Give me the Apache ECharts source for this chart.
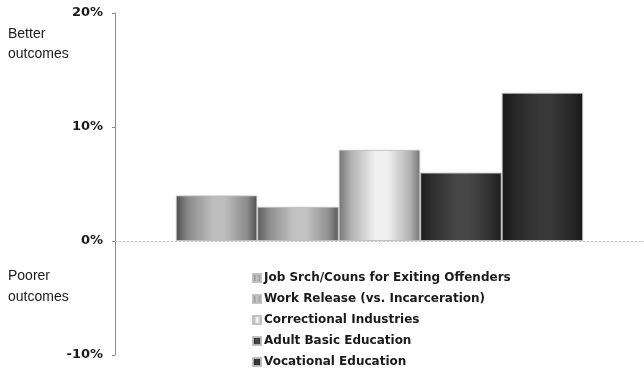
<!DOCTYPE html>
<html>
<head>
<meta charset="utf-8">
<script src="https://cdn.jsdelivr.net/npm/echarts@6/dist/echarts.min.js"></script>
<style>
html,body{margin:0;padding:0;background:#fff;}
#c{width:644px;height:374px;}
</style>
</head>
<body>
<div id="c"></div>
<script>
var categories = [''];
var seriesNames = [
  'Job Srch/Couns for Exiting Offenders',
  'Work Release (vs. Incarceration)',
  'Correctional Industries',
  'Adult Basic Education',
  'Vocational Education'
];
var seriesValues = [4, 3, 8, 6, 13];
var yTicks = [-10, 0, 10, 20];

var edgeColors = ['#4e4e4e', '#5a5a5a', '#747474', '#1c1c1c', '#181818'];
var midColors = ['#8a8a8a', '#8e8e8e', '#b0b0b0', '#2e2e2e', '#262626'];
var centerColors = ['#bdbdbd', '#c2c2c2', '#f0f0f0', '#474747', '#383838'];

function grad(i) {
  return new echarts.graphic.LinearGradient(0, 0, 1, 0, [
    {offset: 0, color: edgeColors[i]},
    {offset: 0.15, color: midColors[i]},
    {offset: 0.45, color: centerColors[i]},
    {offset: 0.6, color: centerColors[i]},
    {offset: 0.88, color: midColors[i]},
    {offset: 1, color: edgeColors[i]}
  ]);
}

var chart = echarts.init(document.getElementById('c'), null, {renderer: 'canvas'});
var series = seriesNames.map(function (n, i) {
  return {
    name: n,
    type: 'bar',
    data: [seriesValues[i]],
    barGap: '0%',
    barCategoryGap: '23%',
    itemStyle: {color: grad(i), borderColor: 'rgba(190,190,190,0.9)', borderWidth: 1},
    emphasis: {disabled: true}
  };
});

chart.setOption({
  animation: false,
  grid: {left: 115, right: 0, top: 13, bottom: 19, containLabel: false},
  xAxis: {
    type: 'category',
    data: categories,
    axisLine: {onZero: true, lineStyle: {color: '#c8c8c8', type: [2, 2], width: 1}},
    axisTick: {show: true, alignWithLabel: true, length: 4, lineStyle: {color: '#bbbbbb', type: [1, 1]}},
    axisLabel: {show: false}
  },
  yAxis: {
    type: 'value',
    min: yTicks[0],
    max: yTicks[yTicks.length - 1],
    interval: 10,
    axisLine: {show: true, lineStyle: {color: '#8c8c8c', width: 1}},
    axisTick: {show: true, length: 3, lineStyle: {color: '#8c8c8c'}},
    splitLine: {show: false},
    axisLabel: {
      formatter: '{value}%',
      fontFamily: 'DejaVu Sans',
      fontWeight: 'bold',
      fontSize: 13,
      color: '#1a1a1a',
      margin: 12
    }
  },
  legend: {
    orient: 'vertical',
    left: 252,
    top: 271,
    height: 103,
    padding: 0,
    itemWidth: 8,
    itemHeight: 8,
    itemGap: 7,
    icon: 'rect',
    selectedMode: false,
    data: seriesNames,
    textStyle: {
      fontFamily: 'DejaVu Sans',
      fontWeight: 'bold',
      fontSize: 12,
      lineHeight: 14,
      color: '#1a1a1a',
      padding: [0, 0, 0, -2]
    }
  },
  graphic: [
    {type: 'text', left: 8, top: 24, style: {text: 'Better\noutcomes', font: '14px "Liberation Sans", Arial, sans-serif', lineHeight: 20, fill: '#1a1a1a'}},
    {type: 'text', left: 8, top: 266, style: {text: 'Poorer\noutcomes', font: '14px "Liberation Sans", Arial, sans-serif', lineHeight: 21, fill: '#1a1a1a'}}
  ],
  series: series
});
</script>
</body>
</html>
